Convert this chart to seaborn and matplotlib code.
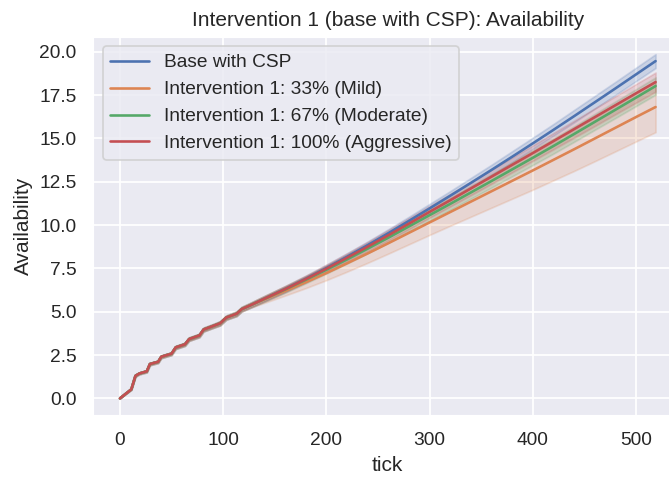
import matplotlib
matplotlib.use("Agg")
import matplotlib.pyplot as plt
import numpy as np
import pandas as pd
import seaborn as sns

# ---- data -------------------------------------------------------------
series_names = [
    "Base with CSP",
    "Intervention 1: 33% (Mild)",
    "Intervention 1: 67% (Moderate)",
    "Intervention 1: 100% (Aggressive)",
]

# early period: all scenarios coincide (quarterly step pattern)
early_ticks = [0, 11, 15, 19, 26, 29, 37, 40, 50, 54, 63, 67, 77, 81, 90, 97, 103, 113, 118, 126]
early_mean = [0.00, 0.52, 1.30, 1.44, 1.56, 1.98, 2.11, 2.40, 2.58, 2.94,
              3.12, 3.42, 3.63, 3.97, 4.17, 4.33, 4.66, 4.88, 5.15, 5.36]
early_halfwidth = [0.0, 0.03, 0.05, 0.05, 0.06, 0.07, 0.07, 0.08, 0.08, 0.09,
                   0.09, 0.10, 0.10, 0.11, 0.11, 0.12, 0.12, 0.13, 0.13, 0.14]

late_ticks = [140, 160, 180, 200, 220, 240, 260, 280, 300, 320,
              340, 360, 380, 400, 420, 440, 460, 480, 500, 519]

base_mean = [5.75, 6.31, 6.90, 7.52, 8.17, 8.84, 9.53, 10.24, 10.96, 11.69,
             12.43, 13.18, 13.94, 14.71, 15.49, 16.28, 17.08, 17.88, 18.69, 19.46]
mild_mean = [5.71, 6.20, 6.70, 7.23, 7.79, 8.36, 8.95, 9.55, 10.15, 10.75,
             11.35, 11.95, 12.55, 13.15, 13.76, 14.37, 14.99, 15.61, 16.23, 16.81]
moderate_mean = [5.74, 6.28, 6.84, 7.42, 8.02, 8.64, 9.27, 9.92, 10.57, 11.22,
                 11.88, 12.54, 13.21, 13.88, 14.56, 15.25, 15.95, 16.65, 17.35, 18.02]
aggressive_mean = [5.75, 6.30, 6.88, 7.48, 8.11, 8.75, 9.41, 10.08, 10.76, 11.43,
                   12.11, 12.79, 13.47, 14.15, 14.84, 15.53, 16.22, 16.91, 17.60, 18.25]

base_halfwidth = [0.15, 0.16, 0.17, 0.19, 0.20, 0.21, 0.23, 0.24, 0.26, 0.27,
                  0.29, 0.30, 0.32, 0.33, 0.34, 0.36, 0.37, 0.38, 0.39, 0.40]
mild_halfwidth = [0.20, 0.27, 0.34, 0.41, 0.48, 0.54, 0.60, 0.66, 0.72, 0.79,
                  0.87, 0.95, 1.03, 1.11, 1.18, 1.25, 1.31, 1.36, 1.41, 1.45]
moderate_halfwidth = [0.16, 0.18, 0.20, 0.22, 0.24, 0.26, 0.28, 0.30, 0.32, 0.34,
                      0.36, 0.38, 0.40, 0.42, 0.44, 0.45, 0.46, 0.48, 0.49, 0.50]
aggressive_halfwidth = [0.16, 0.18, 0.20, 0.23, 0.25, 0.27, 0.30, 0.32, 0.34, 0.36,
                        0.39, 0.41, 0.43, 0.45, 0.47, 0.49, 0.51, 0.52, 0.54, 0.55]

late_means = [base_mean, mild_mean, moderate_mean, aggressive_mean]
late_halfwidths = [base_halfwidth, mild_halfwidth, moderate_halfwidth, aggressive_halfwidth]

# long-form table: lower and upper replicate per tick so that the
# mean is the centre line and the full percentile range is the band
rows = []
for name, lm, lh in zip(series_names, late_means, late_halfwidths):
    ticks = early_ticks + late_ticks
    means = early_mean + lm
    hws = early_halfwidth + lh
    for t, m, h in zip(ticks, means, hws):
        rows.append({"tick": t, "Availability": m - h, "scenario": name})
        rows.append({"tick": t, "Availability": m + h, "scenario": name})
df = pd.DataFrame(rows)

# ---- plot -------------------------------------------------------------
sns.set_theme(style="darkgrid", context="notebook")
plt.rcParams["font.family"] = ["Liberation Sans", "DejaVu Sans"]

fig = plt.figure(figsize=(669 / 125, 477 / 125), dpi=125)
ax = fig.add_axes([0.1393, 0.1289, 0.8807, 0.7939])

sns.lineplot(
    data=df, x="tick", y="Availability", hue="scenario",
    hue_order=series_names, palette="deep",
    estimator="mean", errorbar=("pi", 100), ax=ax,
)

ax.set_xlim(-25.95, 544.95)
ax.set_ylim(-0.99, 20.86)
ax.set_xticks([0, 100, 200, 300, 400, 500])
ax.set_yticks(np.arange(0, 20.01, 2.5))
ax.yaxis.set_major_formatter(matplotlib.ticker.FormatStrFormatter("%.1f"))

ax.set_title("Intervention 1 (base with CSP): Availability")
ax.set_xlabel("tick")
ax.set_ylabel("Availability")
sns.move_legend(ax, "upper left", title=None)

fig.savefig("out.png", dpi=125)
